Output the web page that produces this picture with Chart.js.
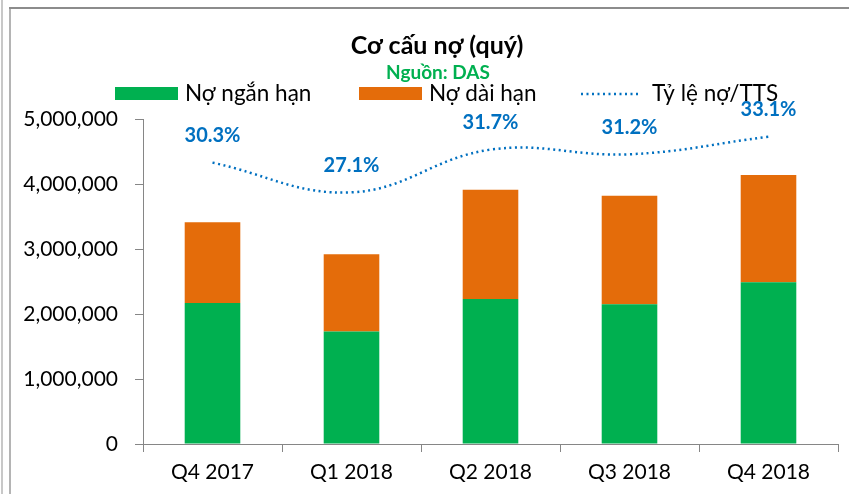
<!DOCTYPE html>
<html><head><meta charset="utf-8">
<script src="https://cdn.jsdelivr.net/npm/chart.js@4.4.0/dist/chart.umd.min.js"></script>
<style>html,body{margin:0;padding:0;background:#fff;overflow:hidden}#wrap{position:relative;width:849px;height:494px}</style>
</head><body><div id="wrap"><canvas id="c" width="849" height="494"></canvas></div>
<script>
const categories = ['Q4 2017', 'Q1 2018', 'Q2 2018', 'Q3 2018', 'Q4 2018'];
const shortTermDebt = [2170000, 1730000, 2230000, 2150000, 2490000];
const longTermDebt = [1240000, 1190000, 1680000, 1670000, 1650000];
const debtToAssets = [30.3, 27.1, 31.7, 31.2, 33.1];
const seriesNames = ['Nợ ngắn hạn', 'Nợ dài hạn', 'Tỷ lệ nợ/TTS'];
const titleText = 'Cơ cấu nợ (quý)';
const subtitleText = 'Nguồn: DAS';
const yMin = 0, yMax = 5000000, yStep = 1000000;

const FONT = 'Lato, "Open Sans", sans-serif';
const GREEN = '#00B050', ORANGE = '#E46C0A', BLUE = '#0070C0', AXIS = '#868686';

const decorPlugin = {
  id: 'decor',
  beforeDraw(chart) {
    const ctx = chart.ctx;
    ctx.save();
    ctx.fillStyle = '#fff';
    ctx.fillRect(0, 0, chart.width, chart.height);
    ctx.strokeStyle = '#c8c8c8'; ctx.lineWidth = 2;
    ctx.beginPath(); ctx.moveTo(2, 0); ctx.lineTo(2, chart.height); ctx.stroke();
    ctx.strokeStyle = '#b4b4b4';
    ctx.beginPath(); ctx.moveTo(10, 8); ctx.lineTo(10, chart.height); ctx.stroke();
    ctx.strokeStyle = '#8c8c8c';
    ctx.beginPath(); ctx.moveTo(9, 8); ctx.lineTo(chart.width, 8); ctx.stroke();
    // title
    ctx.fillStyle = '#000';
    ctx.textAlign = 'center'; ctx.textBaseline = 'middle';
    ctx.font = 'bold 25px ' + FONT;
    ctx.fillText(titleText, 437, 46);
    ctx.fillStyle = GREEN;
    ctx.font = 'bold 19px ' + FONT;
    ctx.fillText(subtitleText, 438, 73);
    // legend
    ctx.font = '22.5px ' + FONT;
    ctx.textAlign = 'left';
    ctx.fillStyle = GREEN; ctx.fillRect(115, 87, 63, 13);
    ctx.fillStyle = '#000'; ctx.fillText(seriesNames[0], 185, 94);
    ctx.fillStyle = ORANGE; ctx.fillRect(359, 87, 63, 13);
    ctx.fillStyle = '#000'; ctx.fillText(seriesNames[1], 429, 94);
    ctx.strokeStyle = BLUE; ctx.lineWidth = 2.5; ctx.setLineDash([2, 3.5]);
    ctx.beginPath(); ctx.moveTo(581, 94); ctx.lineTo(641, 94); ctx.stroke();
    ctx.setLineDash([]);
    ctx.fillStyle = '#000'; ctx.fillText(seriesNames[2], 652, 94);
    ctx.restore();
  },
  afterDatasetsDraw(chart) {
    const ctx = chart.ctx;
    const meta = chart.getDatasetMeta(2);
    ctx.save();
    ctx.fillStyle = BLUE;
    ctx.font = 'bold 20px ' + FONT;
    ctx.textAlign = 'center'; ctx.textBaseline = 'middle';
    meta.data.forEach((p, i) => {
      ctx.fillText(debtToAssets[i].toFixed(1) + '%', p.x, p.y - 27);
    });
    ctx.restore();
  }
};

new Chart(document.getElementById('c'), {
  data: {
    labels: categories,
    datasets: [
      { type: 'bar', label: seriesNames[0], data: shortTermDebt, backgroundColor: GREEN, borderWidth: 0,
        barPercentage: 0.8, categoryPercentage: 0.5, order: 2, yAxisID: 'y' },
      { type: 'bar', label: seriesNames[1], data: longTermDebt, backgroundColor: ORANGE, borderWidth: 0,
        barPercentage: 0.8, categoryPercentage: 0.5, order: 2, yAxisID: 'y' },
      { type: 'line', label: seriesNames[2], data: debtToAssets, borderColor: BLUE, borderWidth: 2.5,
        borderDash: [2, 3.5], tension: 0.4, pointRadius: 0, fill: false, order: 1, yAxisID: 'y1' }
    ]
  },
  options: {
    responsive: false, animation: false, devicePixelRatio: 1,
    layout: { padding: { top: 119, right: 11, bottom: 0, left: 0 } },
    plugins: { legend: { display: false }, title: { display: false }, tooltip: { enabled: false } },
    scales: {
      x: {
        stacked: true,
        grid: { offset: true, drawOnChartArea: false, tickLength: 8, color: AXIS },
        border: { color: AXIS, width: 1 },
        ticks: { color: '#000', font: { family: FONT, size: 21 }, padding: 8 },
        afterFit: s => { s.height = 50; }
      },
      y: {
        stacked: true, min: yMin, max: yMax,
        grid: { drawOnChartArea: false, tickLength: 8, color: AXIS },
        border: { color: AXIS, width: 1 },
        ticks: { stepSize: yStep, color: '#000', font: { family: FONT, size: 21 }, padding: 17,
          callback: v => v.toLocaleString('en-US') },
        afterFit: s => { s.width = 143; }
      },
      y1: { display: false, min: 0, max: 35 }
    }
  },
  plugins: [decorPlugin]
});
</script></body></html>
